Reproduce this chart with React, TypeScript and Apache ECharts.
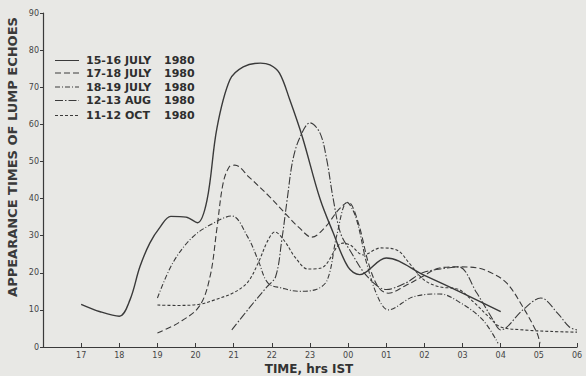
import React, { useEffect, useRef } from "react";
import * as echarts from "echarts";

// Hours are counted continuously: 24 = 00, 25 = 01 ... 30 = 06
const hourLabels = ["17", "18", "19", "20", "21", "22", "23", "00", "01", "02", "03", "04", "05", "06"];
const yTicks = [0, 10, 20, 30, 40, 50, 60, 70, 80, 90];

const legendNames = ["15-16 JULY", "17-18 JULY", "18-19 JULY", "12-13 AUG", "11-12 OCT"];
const legendYear = "1980";

const jul15_16: number[][] = [
  [17, 11.5], [17.5, 9.5], [18, 8.3], [18.28, 12.7], [18.54, 21.6], [18.8, 28], [19.07, 32.3],
  [19.35, 35.2], [19.75, 35], [20.05, 33.5], [20.3, 39.6], [20.56, 59], [20.9, 72], [21.25, 75.5],
  [21.7, 76.5], [21.95, 76], [22.2, 73.8], [22.47, 66.6], [22.8, 56.6], [23.26, 40], [23.6, 31],
  [24, 21.5], [24.3, 19.5], [25, 24], [26, 19.3], [27, 14.5], [28, 9.5],
];

const jul17_18: number[][] = [
  [19, 3.8], [19.55, 6.5], [20.1, 11], [20.38, 19], [20.56, 32], [20.72, 44], [20.88, 48.5],
  [21.03, 49], [21.4, 45.8], [21.95, 40.4], [22.35, 36], [22.7, 32.3], [23.05, 29.6], [23.4, 32.3],
  [23.75, 37], [24, 39], [24.25, 34], [24.55, 22], [24.8, 16], [25.05, 14.5], [25.5, 16.5],
  [25.95, 19], [26.4, 21.3], [26.9, 21.6], [27.4, 21.3], [27.75, 20], [28.16, 17.2], [28.58, 10.8],
  [28.95, 3.8], [29.03, 1],
];

const jul18_19: number[][] = [
  [19, 13.2], [19.4, 22.6], [19.9, 29.4], [20.4, 33], [20.95, 35.3], [21.37, 29.6], [21.64, 23.4],
  [21.9, 17.2], [22.26, 15.9], [22.7, 15], [23.13, 15.4], [23.45, 18], [23.7, 30], [23.97, 39],
  [24.2, 35], [24.5, 22], [24.8, 13], [25.05, 10], [25.7, 13.5], [26.4, 14.3], [26.93, 12],
  [27.53, 7.3], [27.93, 1],
];

const aug12_13: number[][] = [
  [20.95, 4.6], [21.43, 10.8], [21.87, 16.2], [22.1, 19], [22.26, 28.8], [22.4, 39.6],
  [22.55, 50.4], [22.74, 56.6], [23.0, 60.4], [23.26, 57.7], [23.44, 50.4], [23.6, 40.4],
  [23.8, 30.7], [24.05, 26], [24.5, 19], [25, 15.5], [25.5, 17.2], [25.95, 20], [26.6, 21.3],
  [26.9, 21.6], [27.37, 14.6], [27.8, 7.3], [28.0, 4.6], [28.58, 10], [29.05, 13.2], [29.5, 9],
  [29.8, 5.4], [30, 4.6],
];

const oct11_12: number[][] = [
  [19, 11.3], [19.5, 11.2], [20.1, 11.5], [20.5, 12.7], [21.03, 14.8], [21.37, 17.5], [21.64, 22.6],
  [21.9, 28.8], [22.08, 31], [22.35, 28.3], [22.6, 24.3], [22.95, 21], [23.3, 21.3], [23.86, 28],
  [24.05, 27.5], [24.4, 24.8], [24.85, 26.7], [25.3, 26], [25.6, 22.6], [26, 18], [26.4, 16.2],
  [26.9, 15.5], [27.3, 12], [27.7, 8], [28.0, 5.4], [28.6, 4.6], [29.3, 4.2], [30, 4],
];

const seriesData = [jul15_16, jul17_18, jul18_19, aug12_13, oct11_12];
const dashes: (number[] | null)[] = [null, [6, 3], [5, 2, 1, 2], [8, 2, 1.5, 2], [3, 2]];

const INK = "#3a3a3a";
const FONT = "DejaVu Sans";

export default function App() {
  const ref = useRef<HTMLDivElement>(null);
  useEffect(() => {
    if (!ref.current) return;
    const chart = echarts.init(ref.current, null, { renderer: "svg" });
    const legendRows = [60.5, 73, 87, 100.5, 115.5];
    const graphic: any[] = [];
    legendNames.forEach((name, i) => {
      const y = legendRows[i];
      graphic.push({
        type: "line",
        shape: { x1: 55, y1: y, x2: 79, y2: y },
        style: { stroke: INK, lineWidth: 1, lineDash: dashes[i] || undefined },
      });
      graphic.push({
        type: "text",
        x: 86,
        y,
        style: { text: name, font: `bold 11px "${FONT}"`, fill: "#2e2e2e", textVerticalAlign: "middle" },
      });
      graphic.push({
        type: "text",
        x: 164,
        y,
        style: { text: legendYear, font: `bold 11px "${FONT}"`, fill: "#2e2e2e", textVerticalAlign: "middle" },
      });
    });
    graphic.push({
      type: "text",
      x: 12,
      y: 157,
      rotation: Math.PI / 2,
      style: {
        text: "APPEARANCE TIMES OF LUMP ECHOES",
        font: `bold 13px "${FONT}"`,
        fill: "#3a3a3a",
        textAlign: "center",
        textVerticalAlign: "middle",
      },
    });
    graphic.push({
      type: "text",
      x: 309,
      y: 369,
      style: {
        text: "TIME, hrs IST",
        font: `bold 12px "${FONT}"`,
        fill: "#333",
        textAlign: "center",
        textVerticalAlign: "middle",
      },
    });

    chart.setOption({
      animation: false,
      backgroundColor: "#e8e8e5",
      grid: { left: 43, right: 9, top: 13, bottom: 29 },
      xAxis: {
        type: "value",
        min: 16,
        max: 30,
        interval: 1,
        axisLine: { lineStyle: { color: INK, width: 1.2 } },
        axisTick: { inside: true, length: 4, lineStyle: { color: INK } },
        splitLine: { show: false },
        axisLabel: {
          color: "#444",
          fontSize: 8,
          fontFamily: FONT,
          margin: 4,
          formatter: (v: number) => {
            const i = Math.round(v) - 17;
            return i >= 0 && i < hourLabels.length ? hourLabels[i] : "";
          },
        },
      },
      yAxis: {
        type: "value",
        min: yTicks[0],
        max: yTicks[yTicks.length - 1],
        interval: 10,
        axisLine: { show: true, lineStyle: { color: INK, width: 1.2 } },
        axisTick: { show: true, inside: false, length: 3, lineStyle: { color: INK } },
        splitLine: { show: false },
        axisLabel: { color: "#444", fontSize: 8, fontFamily: FONT, margin: 4 },
      },
      graphic,
      series: seriesData.map((d, i) => ({
        type: "line",
        data: d,
        smooth: 0.35,
        showSymbol: false,
        symbol: "none",
        lineStyle: {
          color: INK,
          width: i === 0 ? 1.4 : 1.1,
          type: dashes[i] || "solid",
        },
      })),
    });
    return () => chart.dispose();
  }, []);
  return (
    <div
      ref={ref}
      style={{ width: 586, height: 376, position: "absolute", left: 0, top: 0 }}
    />
  );
}
